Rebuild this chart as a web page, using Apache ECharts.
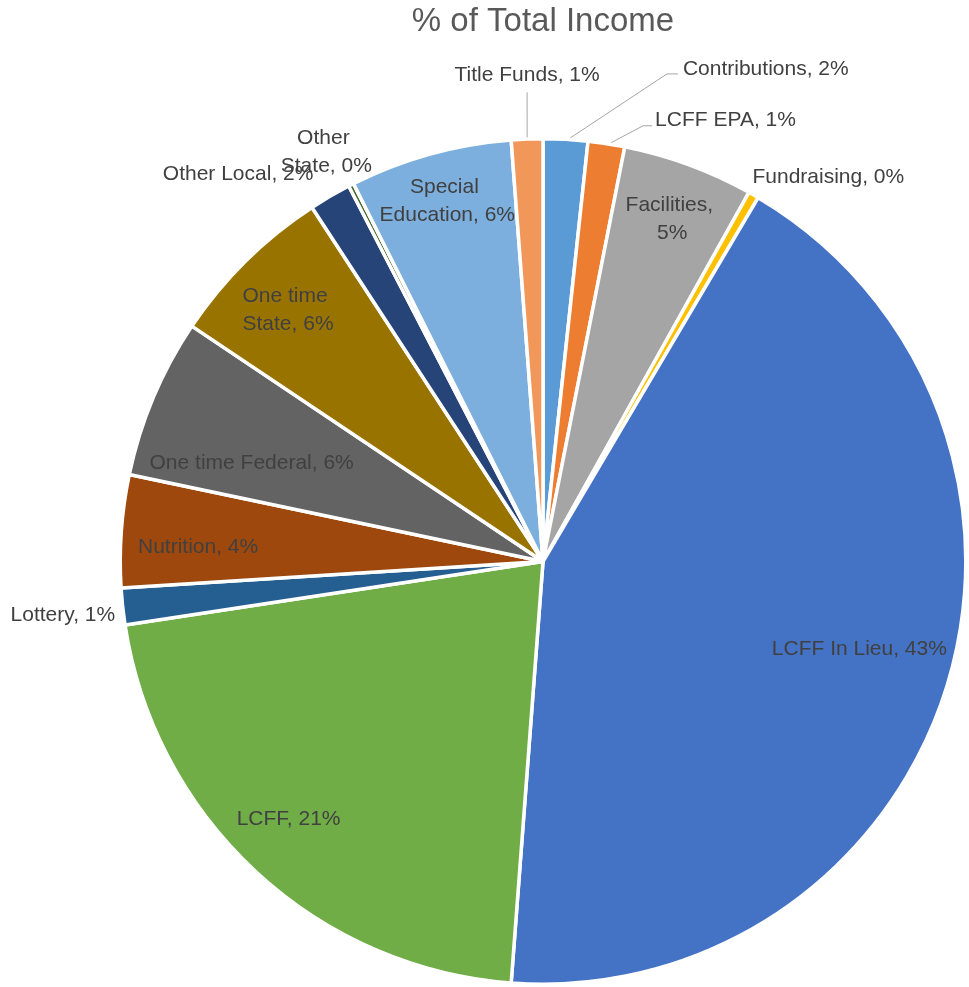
<!DOCTYPE html>
<html><head><meta charset="utf-8">
<script src="https://cdn.jsdelivr.net/npm/echarts@6/dist/echarts.min.js"></script>
<style>html,body{margin:0;padding:0;background:#fff}#c{width:969px;height:987px}</style>
</head><body><div id="c"></div>
<script>
const titleText = '% of Total Income';
const categories = ['Contributions','LCFF EPA','Facilities','Fundraising','LCFF In Lieu','LCFF','Lottery','Nutrition','One time Federal','One time State','Other Local','Other State','Special Education','Title Funds'];
const values = [1.7, 1.4, 5.0, 0.4, 42.7, 21.4, 1.4, 4.3, 6.1, 6.4, 1.6, 0.2, 6.2, 1.2];
const colors = ['#5B9BD5','#ED7D31','#A5A5A5','#FFC000','#4472C4','#70AD47','#255E91','#9E480E','#636363','#997300','#264478','#43682B','#7CAFDD','#F1975A'];

// layout constants
const CX = 543, CY = 561.5, R = 421, BORDER = 3.5;
const TITLE_FONT = 33;
// label placement: angle offset from slice middle (deg), radial factor, alignment, nudges, leader line, wrap width
const place = {
  'Contributions':     {off: 11.2, k: 1.195, align: 'left', dx: 16, dy: -5, line: 11},
  'LCFF EPA':          {off: 4.3,  k: 1.062, align: 'left', dx: 12, dy: -6, line: 9},
  'Facilities':        {off: 0.5,  k: 0.87, w: 100},
  'Fundraising':       {off: -1.3, k: 1.04, align: 'left'},
  'LCFF In Lieu':      {off: -1.9, k: 0.78},
  'LCFF':              {off: 1.8,  k: 0.86},
  'Lottery':           {off: -1.0, k: 1.024, align: 'right'},
  'Nutrition':         {off: -1.7, k: 0.82},
  'One time Federal':  {off: -4.3, k: 0.73},
  'One time State':    {off: -0.8, k: 0.85, w: 100},
  'Other Local':       {off: -8.0, k: 1.17},
  'Other State':       {off: -0.9, k: 1.1, w: 95},
  'Special Education': {off: 0.6,  k: 0.885, w: 145},
  'Title Funds':       {off: 0.22, k: 1.115, va: 'bottom', dy: -3, line: 0}
};

const total = values.reduce((a, b) => a + b, 0);
const mids = [];
let acc = 0;
values.forEach(v => { mids.push((acc + v / 2) / total * 360); acc += v; });

// measure the title so it can be centred over the pie
const mctx = document.createElement('canvas').getContext('2d');
mctx.font = TITLE_FONT + 'px "Liberation Sans"';
const titleW = mctx.measureText(titleText).width;

const chart = echarts.init(document.getElementById('c'), null, {renderer: 'canvas'});
chart.setOption({
  animation: false,
  backgroundColor: '#ffffff',
  title: {
    text: titleText,
    left: CX - titleW / 2,
    top: 5,
    padding: 0,
    textStyle: {fontFamily: 'Liberation Sans', fontSize: TITLE_FONT, fontWeight: 'normal', color: '#595959'}
  },
  series: [{
    type: 'pie',
    center: [CX, CY],
    radius: [0, R + BORDER / 2],
    startAngle: 90,
    clockwise: true,
    avoidLabelOverlap: false,
    emphasis: {disabled: true},
    itemStyle: {borderColor: '#ffffff', borderWidth: BORDER},
    percentPrecision: 2,
    label: {
      show: true,
      position: 'outside',
      fontFamily: 'Liberation Sans',
      fontSize: 21,
      lineHeight: 28,
      color: '#404040',
      formatter: p => p.name + ', ' + Math.round(p.percent) + '%'
    },
    labelLine: {show: false, length: 5, length2: 5, lineStyle: {color: '#A6A6A6', width: 1}},
    labelLayout: function (params) {
      const i = params.dataIndex;
      const p = place[categories[i]];
      const a = (mids[i] + p.off) * Math.PI / 180;
      const px = CX + p.k * R * Math.sin(a);
      const py = CY - p.k * R * Math.cos(a);
      const res = {
        x: px + (p.dx || 0),
        y: py + (p.dy || 0),
        align: p.align || 'center',
        verticalAlign: p.va || 'middle'
      };
      if (p.line !== undefined) {
        const am = mids[i] * Math.PI / 180;
        res.labelLinePoints = [[CX + R * Math.sin(am), CY - R * Math.cos(am)], [px, py], [px + p.line, py]];
      }
      return res;
    },
    data: categories.map((c, i) => {
      const p = place[c];
      return {
        name: c,
        value: values[i],
        itemStyle: {color: colors[i]},
        label: p.w ? {width: p.w, overflow: 'break'} : {},
        labelLine: {show: p.line !== undefined}
      };
    })
  }]
});
</script>
</body></html>
